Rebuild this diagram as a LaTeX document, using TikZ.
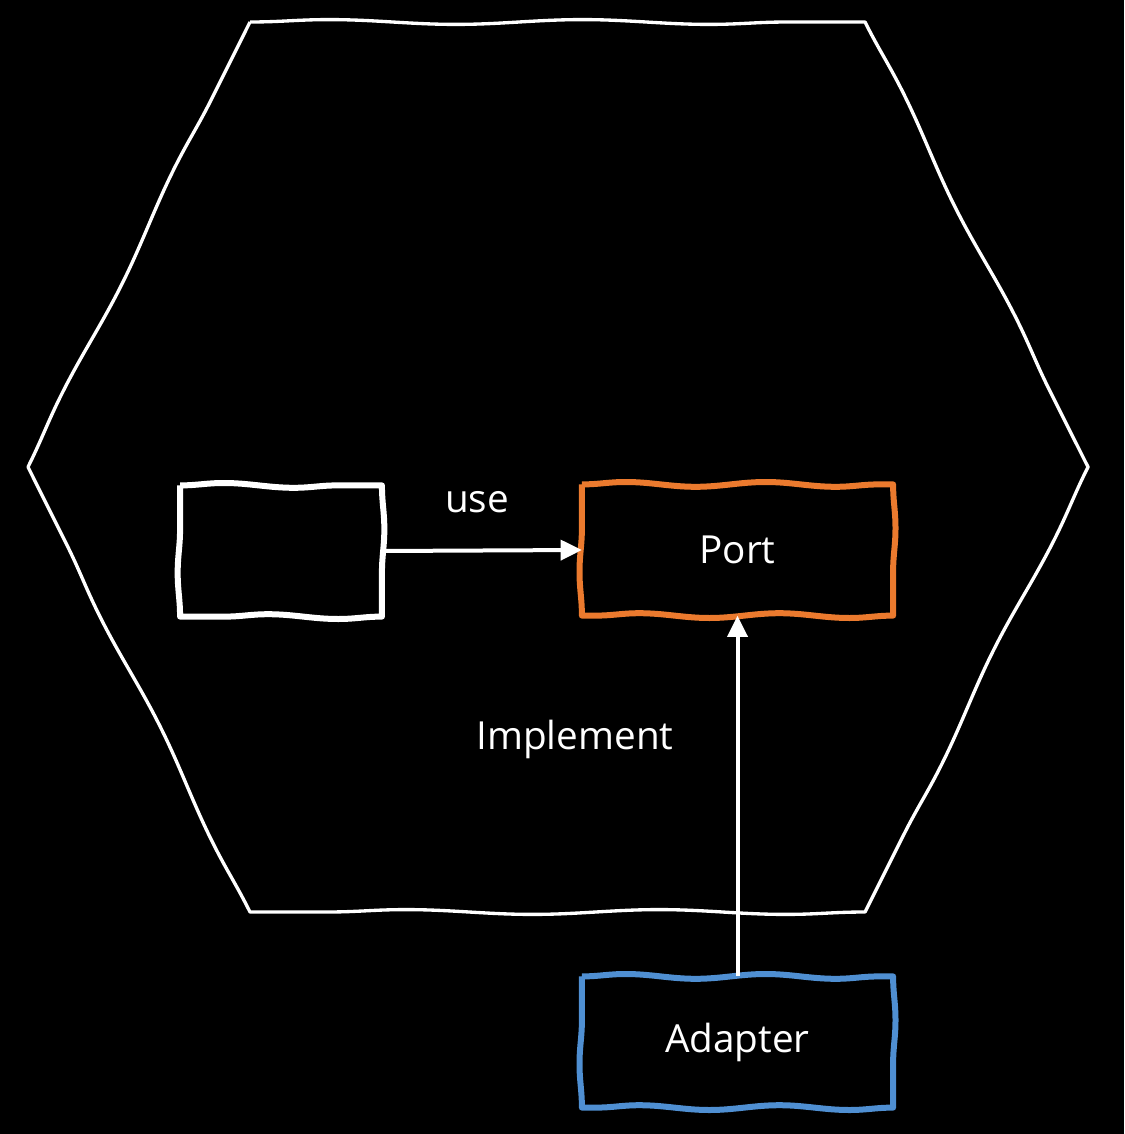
\documentclass[tikz,border=0pt]{standalone}
\usepackage{fontspec}
\setmainfont{Open Sans}
\usetikzlibrary{arrows.meta,decorations.pathmorphing}
\definecolor{portorange}{HTML}{EB7A2E}
\definecolor{adapterblue}{HTML}{4F8FD2}

\begin{document}
\begin{tikzpicture}[x=0.75pt,y=-0.75pt,
  wavy/.style={decoration={snake,segment length=#1,amplitude=1.8pt},to path={decorate{-- (\tikztotarget)}}},
  wavy/.default=105pt,
  box/.style={minimum width=151pt,minimum height=98pt,font=\fontsize{29}{35}\selectfont,text=white},
  outline/.style={line width=4.5pt,line join=round,wavy},
  link/.style={draw=white,line width=3pt,-{Triangle[length=16pt,width=15pt]}},
  lbl/.style={text=white,font=\fontsize{29}{35}\selectfont}]
\fill[black] (0,0) rectangle (1124,1134);
\coordinate (hexTL) at (250,22);
\coordinate (hexTR) at (865,22);
\coordinate (hexR) at (1088,467);
\coordinate (hexBR) at (865,912);
\coordinate (hexBL) at (250,912);
\coordinate (hexL) at (28,467);
\draw[white,line width=2.5pt,line join=round,wavy=190pt]
  (hexTL) to (hexTR) to (hexR) to (hexBR) to (hexBL) to (hexL) to (hexTL);
\node[box] (core) at (281,551) {};
\node[box,minimum width=233pt] (port) at (737.5,550) {Port};
\node[box,minimum width=233pt] (adapter) at (737.5,1042) {Adapter};
\draw[outline,white] (core.north west) to (core.north east) to (core.south east) to (core.south west) to (core.north west);
\draw[outline,portorange] (port.north west) to (port.north east) to (port.south east) to (port.south west) to (port.north west);
\draw[outline,adapterblue] (adapter.north west) to (adapter.north east) to (adapter.south east) to (adapter.south west) to (adapter.north west);
\draw[link] (core.east) -- (port.west);
\draw[link] (adapter.north) -- (port.south);
\node[lbl] (use) at (477,502) {use};
\node[lbl] (impl) at (575,739) {Implement};
\end{tikzpicture}
\end{document}
